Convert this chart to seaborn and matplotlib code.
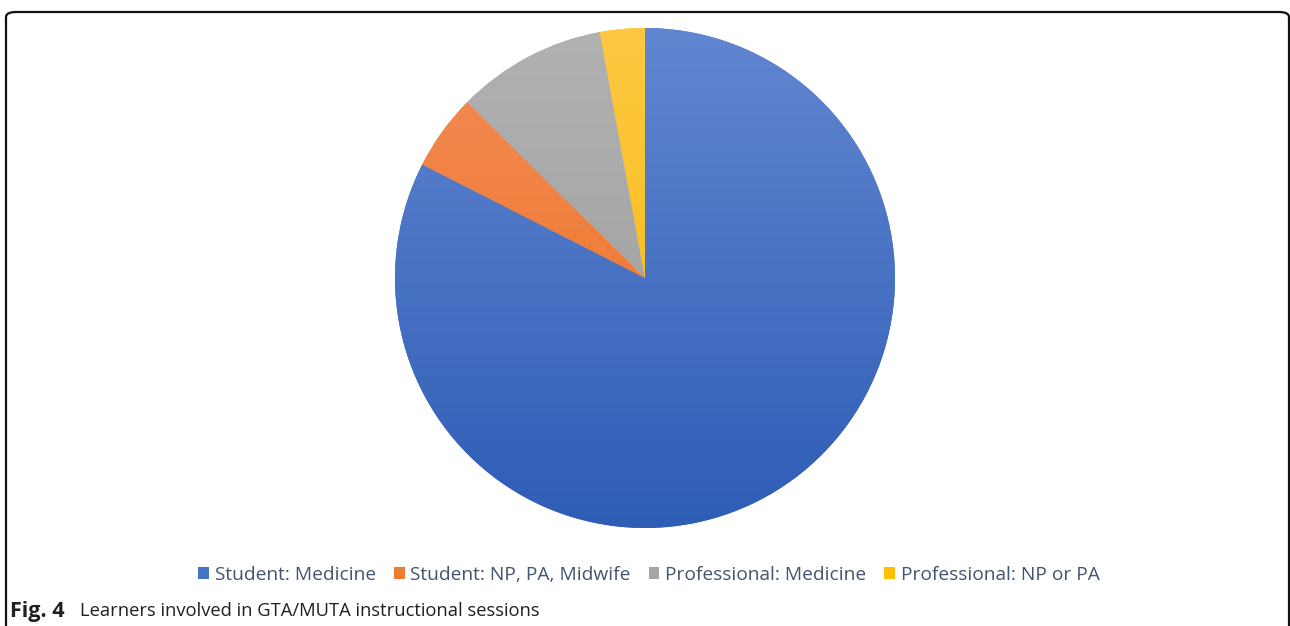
import numpy as np
import matplotlib
matplotlib.use("Agg")
import matplotlib.pyplot as plt
from matplotlib.colors import to_rgb
from matplotlib.patches import FancyBboxPatch, Patch
import seaborn as sns

# Données (parts en %)
categories = ["Student: Medicine", "Student: NP, PA, Midwife",
              "Professional: Medicine", "Professional: NP or PA"]
parts = [82.5, 4.9, 9.7, 2.9]

# Couleurs Office : haut clair -> bas foncé
couleurs_haut = ["#6286d0", "#f28c55", "#b1b1b1", "#ffc843"]
couleurs_bas = ["#2e5db6", "#ef6e1e", "#9c9c9c", "#f2b700"]
couleurs_legende = ["#4472c4", "#ed7d31", "#a5a5a5", "#ffc000"]

sns.set_theme(style="white")
plt.rcParams['font.family'] = ['Open Sans', 'DejaVu Sans']

W, H = 1290, 626
fig = plt.figure(figsize=(W / 100, H / 100), dpi=100)
fig.patch.set_facecolor("white")

# Cadre arrondi
cadre = FancyBboxPatch((6 / W, -30 / H), 1283 / W, (H - 12 + 30) / H,
                       boxstyle="round,pad=0,rounding_size=0.008",
                       transform=fig.transFigure, fill=False,
                       edgecolor="#111111", linewidth=1.6)
fig.patches.append(cadre)

# Axe du camembert : centre (645, 278) px, rayon 250 px
cx, cy, r = 645, 278, 250
ax = fig.add_axes([(cx - r) / W, (H - cy - r) / H, 2 * r / W, 2 * r / H])
wedges, _ = ax.pie(parts, startangle=90, counterclock=False,
                   colors=couleurs_legende, radius=1,
                   wedgeprops=dict(linewidth=0))

# Dégradé vertical dans chaque part
for w, haut, bas in zip(wedges, couleurs_haut, couleurs_bas):
    t = np.linspace(0, 1, 256)[:, None, None]
    grad = (1 - t) * np.array(to_rgb(haut)) + t * np.array(to_rgb(bas))
    im = ax.imshow(grad, extent=(-1, 1, -1, 1), aspect="auto", zorder=2,
                   interpolation="bilinear")
    im.set_clip_path(w)

ax.set_xlim(-1, 1)
ax.set_ylim(-1, 1)
ax.set_aspect("equal")
ax.axis("off")

# Légende
handles = [Patch(facecolor=c, edgecolor="none") for c in couleurs_legende]
fig.legend(handles, categories, loc="center", ncol=4,
           bbox_to_anchor=(649 / W, 1 - 575 / H), frameon=False,
           fontsize=13.8, handlelength=0.55, handleheight=0.55,
           handletextpad=0.3, columnspacing=0.95,
           labelcolor="#44546a")

# Légende de figure
fig.text(10 / W, 1 - 611 / H, "Fig. 4", fontsize=15.5, fontweight="bold",
         color="#231f20", va="center", ha="left")
fig.text(80 / W, 1 - 611 / H, "Learners involved in GTA/MUTA instructional sessions",
         fontsize=13.2, color="#231f20", va="center", ha="left")

plt.savefig("out.png", dpi=100)
plt.close()
